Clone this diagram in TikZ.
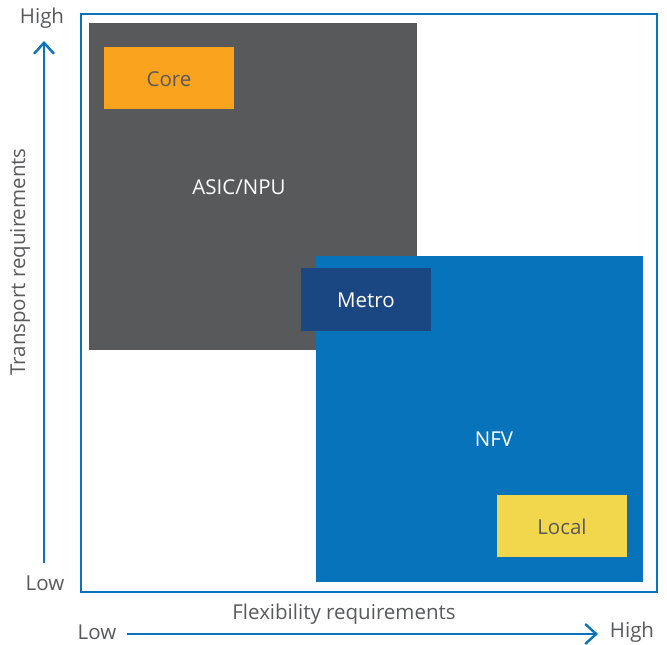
\documentclass[tikz,border=0pt]{standalone}
\usepackage{fontspec}
\setmainfont{Open Sans}
\usetikzlibrary{arrows.meta}

\definecolor{axisblue}{HTML}{0A72BA}
\definecolor{asicgray}{HTML}{58595B}
\definecolor{coreorange}{HTML}{F9A31E}
\definecolor{nfvblue}{HTML}{0673BA}
\definecolor{metroblue}{HTML}{1A4682}
\definecolor{localyellow}{HTML}{F2D64B}
\definecolor{labelgray}{HTML}{58595B}

\begin{document}
\begin{tikzpicture}
[
    x=1pt, y=-1pt,
    every node/.style={font=\fontsize{20.5}{24}\selectfont},
    block/.style={inner sep=0pt, outer sep=0pt, anchor=north west},
    axislabel/.style={text=labelgray},
    axisarrow/.style={draw=axisblue, line width=2.4pt, -{Straight Barb[length=11pt, width=20pt, line width=2.4pt]}},
]
\useasboundingbox (0,0) rectangle (667,645);

% frame
\draw [axisblue, line width=2.6pt] (81,14) rectangle (657,592);

% blocks
\node [block, fill=asicgray, minimum width=328pt, minimum height=327pt] (asic) at (89,23) {};
\node [block, fill=coreorange, minimum width=130pt, minimum height=62pt] (core) at (104,47) {};
\node [text=labelgray] (coretext) at (169,79) {Core};
\node [text=white] (asictext) at (239,187) {ASIC/NPU};
\node [block, fill=nfvblue, minimum width=327pt, minimum height=326pt] (nfv) at (316,256) {};
\node [text=white] (nfvtext) at (494,439) {NFV};
\node [block, fill=metroblue, minimum width=130pt, minimum height=63pt] (metro) at (301,268) {};
\node [text=white] (metrotext) at (366,300) {Metro};
\node [block, fill=localyellow, minimum width=130pt, minimum height=62pt] (local) at (497,495) {};
\node [text=labelgray] (localtext) at (562,527) {Local};

% vertical axis
\node [axislabel] (ylow) at (45,583) {Low};
\node [axislabel] (yhigh) at (42,18) {High};
\node [axislabel, rotate=90] (ytitle) at (20,262) {Transport requirements};
\coordinate (ystart) at (44,563);
\coordinate (yend) at (44,41);
\draw [axisarrow] (ystart) -- (yend);

% horizontal axis
\node [axislabel] (xlow) at (97,632) {Low};
\node [axislabel] (xhigh) at (632,632) {High};
\node [axislabel] (xtitle) at (344,614) {Flexibility requirements};
\coordinate (xstart) at (127,634);
\coordinate (xend) at (598,634);
\draw [axisarrow] (xstart) -- (xend);
\end{tikzpicture}
\end{document}
